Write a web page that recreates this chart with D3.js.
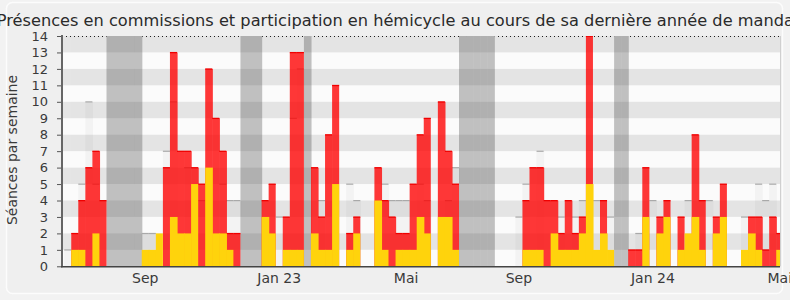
<!DOCTYPE html>
<html>
<head>
<meta charset="utf-8">
<script src="https://cdn.jsdelivr.net/npm/d3@7"></script>
<style>
body { margin: 0; background: #f2f2f2; }
svg { display: block; font-family: "DejaVu Sans", Verdana, sans-serif; }
</style>
</head>
<body>
<svg id="chart" width="790" height="300"></svg>
<script>
// one entry per week, from end of june 2022 to may 2024
var semaines = d3.range(102);
// présences en commission (jaune)
var commission = [0,1,1,0,2,0,0,0,0,0, 0,1,1,2,0,3,2,2,5,0,
                  6,2,2,1,0,0,0,0,3,2, 0,1,1,1,0,2,1,1,5,0,
                  1,2,0,0,4,1,0,1,1,1, 3,2,0,3,3,1,0,0,0,0,
                  0,0,0,0,0,1,1,1,0,2, 1,1,1,2,5,1,2,1,0,0,
                  0,0,3,0,2,3,0,1,2,3, 1,0,2,3,0,0,1,2,1,0,
                  0,1];
// participation en hémicycle (rouge)
var hemicycle = [0,2,4,6,7,4,0,0,0,0, 0,0,0,0,6,13,7,7,6,5,
                 12,9,7,2,2,0,0,0,4,5, 0,3,13,13,0,6,3,8,11,0,
                 2,3,0,0,6,4,3,2,2,5, 8,9,0,10,7,5,0,0,0,0,
                 0,0,0,0,0,4,6,6,4,4, 2,4,2,3,14,0,4,0,0,0,
                 1,1,6,0,3,4,0,3,0,8, 4,0,3,5,0,0,0,3,3,1,
                 3,2];
// présences relevées (gris clair)
var presence = [1,0,5,10,5,0,0,0,0,0, 0,2,2,0,7,10,0,6,0,4,
                0,0,5,4,4,0,0,0,0,0, 3,0,9,12,0,0,4,0,0,0,
                5,4,0,0,0,5,4,4,4,0, 5,4,0,0,4,6,0,0,0,0,
                0,0,0,0,3,5,0,7,0,0, 3,0,3,4,0,4,0,3,0,0,
                0,2,0,4,0,0,0,0,4,0, 0,4,0,0,0,0,3,0,5,4,
                5,0];
// vacances parlementaires
var vacances = [6,7,8,9,10,25,26,27,34,56,57,58,59,60,78,79];
var mois = ["Sep","Jan 23","Mai","Sep","Jan 24","Mai"];
var moisSemaine = [11,30,48,64,83,101];
var graduations = d3.range(15);

var svg = d3.select("#chart");
var plotLeft = 64.2, plotRight = 780, plotTop = 36, plotBottom = 266.3, semW = 7.05;

var x = d3.scaleBand()
    .domain(semaines)
    .range([plotLeft, plotLeft + semaines.length * semW])
    .padding(0);
var y = d3.scaleLinear().domain([0, 14]).range([plotBottom, plotTop]);
var bw = x.bandwidth();

// cadre
svg.append("rect")
    .attr("x", 6.5).attr("y", 2.5)
    .attr("width", 776).attr("height", 291)
    .attr("rx", 6)
    .attr("fill", "#efefef")
    .attr("stroke", "#fcfcfc")
    .attr("stroke-width", 1.5);

svg.append("clipPath").attr("id", "zone")
    .append("rect")
    .attr("x", 62).attr("y", plotTop)
    .attr("width", plotRight - 62).attr("height", plotBottom - plotTop);

var g = svg.append("g").attr("clip-path", "url(#zone)");

g.append("rect")
    .attr("x", 62).attr("y", plotTop)
    .attr("width", plotRight - 62).attr("height", plotBottom - plotTop)
    .attr("fill", "#fbfbfb");

g.append("line")
    .attr("x1", 62).attr("x2", plotRight)
    .attr("y1", y(14) + 0.5).attr("y2", y(14) + 0.5)
    .attr("stroke", "#222")
    .attr("stroke-dasharray", "1,3");

// rects overlap a bit so there is no seam between weeks (opaque colours)
g.selectAll(".vac")
    .data(vacances)
    .enter().append("rect")
    .attr("class", "vac")
    .attr("x", function(d) { return x(d); })
    .attr("width", bw + 0.6)
    .attr("y", y(14))
    .attr("height", y(0) - y(14))
    .attr("fill", "#c1c1c1");

// bandes horizontales
g.selectAll(".bande")
    .data(graduations.filter(function(d) { return d % 2 == 1; }))
    .enter().append("rect")
    .attr("class", "bande")
    .attr("x", 62)
    .attr("width", plotRight - 62)
    .attr("y", function(d) { return y(d + 1); })
    .attr("height", function(d) { return y(d) - y(d + 1); })
    .attr("fill", "rgba(0,0,0,0.085)");

// transparency set on the group, so overlapping rects don't darken
var gPres = g.append("g").attr("opacity", 0.03);
gPres.selectAll("rect")
    .data(semaines.filter(function(d) { return presence[d] > 0; }))
    .enter().append("rect")
    .attr("x", function(d) { return x(d); })
    .attr("width", bw + 0.6)
    .attr("y", function(d) { return y(presence[d]); })
    .attr("height", function(d) { return y(0) - y(presence[d]); })
    .attr("fill", "#000");

g.selectAll(".presTop")
    .data(semaines.filter(function(d) { return presence[d] > 0; }))
    .enter().append("rect")
    .attr("class", "presTop")
    .attr("x", function(d) { return x(d); })
    .attr("width", bw)
    .attr("y", function(d) { return y(presence[d]) - 0.5; })
    .attr("height", 1.2)
    .attr("fill", "#aaaaaa");

var gHemi = g.append("g").attr("opacity", 0.78);
gHemi.selectAll("rect")
    .data(semaines.filter(function(d) { return hemicycle[d] > 0; }))
    .enter().append("rect")
    .attr("x", function(d) { return x(d); })
    .attr("width", function(d) { return hemicycle[d + 1] > 0 ? bw + 0.6 : bw; })
    .attr("y", function(d) { return y(hemicycle[d]); })
    .attr("height", function(d) { return y(0) - y(hemicycle[d]); })
    .attr("fill", "#ff0000");

g.selectAll(".hemiTop")
    .data(semaines.filter(function(d) { return hemicycle[d] > 0; }))
    .enter().append("rect")
    .attr("class", "hemiTop")
    .attr("x", function(d) { return x(d); })
    .attr("width", bw)
    .attr("y", function(d) { return y(hemicycle[d]) - 0.5; })
    .attr("height", 1.3)
    .attr("fill", "#f00000");

g.selectAll(".com")
    .data(semaines.filter(function(d) { return commission[d] > 0; }))
    .enter().append("rect")
    .attr("class", "com")
    .attr("x", function(d) { return x(d); })
    .attr("width", function(d) { return commission[d + 1] > 0 ? bw + 0.6 : bw; })
    .attr("y", function(d) { return y(commission[d]); })
    .attr("height", function(d) { return y(0) - y(commission[d]); })
    .attr("fill", "#ffd30c");

// bord droit
svg.append("line")
    .attr("x1", plotRight + 0.5).attr("x2", plotRight + 0.5)
    .attr("y1", plotTop).attr("y2", plotBottom)
    .attr("stroke", "#d0d0d0");

// axes
var yAxis = svg.append("g")
    .attr("transform", "translate(62,0)")
    .call(d3.axisLeft(y).tickValues(graduations).tickSize(5).tickPadding(9));
yAxis.select(".domain").remove();
yAxis.selectAll("line").attr("stroke", "#555");
yAxis.selectAll("text").attr("font-size", "13px").attr("fill", "#3a3a3a")
    .attr("font-family", "DejaVu Sans");

svg.append("line")
    .attr("x1", 62).attr("x2", 62)
    .attr("y1", plotTop - 1).attr("y2", plotBottom + 1)
    .attr("stroke", "#666").attr("stroke-width", 2);

var xAxis = svg.append("g")
    .attr("transform", "translate(0," + plotBottom + ")")
    .call(d3.axisBottom(x).tickValues(moisSemaine)
        .tickFormat(function(d, i) { return mois[i]; })
        .tickSize(0).tickPadding(7));
xAxis.select(".domain").remove();
xAxis.selectAll("text").attr("font-size", "14px").attr("fill", "#3a3a3a")
    .attr("font-family", "DejaVu Sans");

svg.append("line")
    .attr("x1", 61).attr("x2", plotRight)
    .attr("y1", plotBottom + 0.5).attr("y2", plotBottom + 0.5)
    .attr("stroke", "#444").attr("stroke-width", 1.5);

svg.append("text")
    .attr("transform", "translate(17,150) rotate(-90)")
    .attr("text-anchor", "middle")
    .attr("font-size", "14px")
    .attr("fill", "#3a3a3a")
    .text("Séances par semaine");

svg.append("text")
    .attr("x", 398.5).attr("y", 26)
    .attr("text-anchor", "middle")
    .attr("font-size", "16.2px")
    .attr("fill", "#2a2a2a")
    .text("Présences en commissions et participation en hémicycle au cours de sa dernière année de mandat");
</script>
</body>
</html>
